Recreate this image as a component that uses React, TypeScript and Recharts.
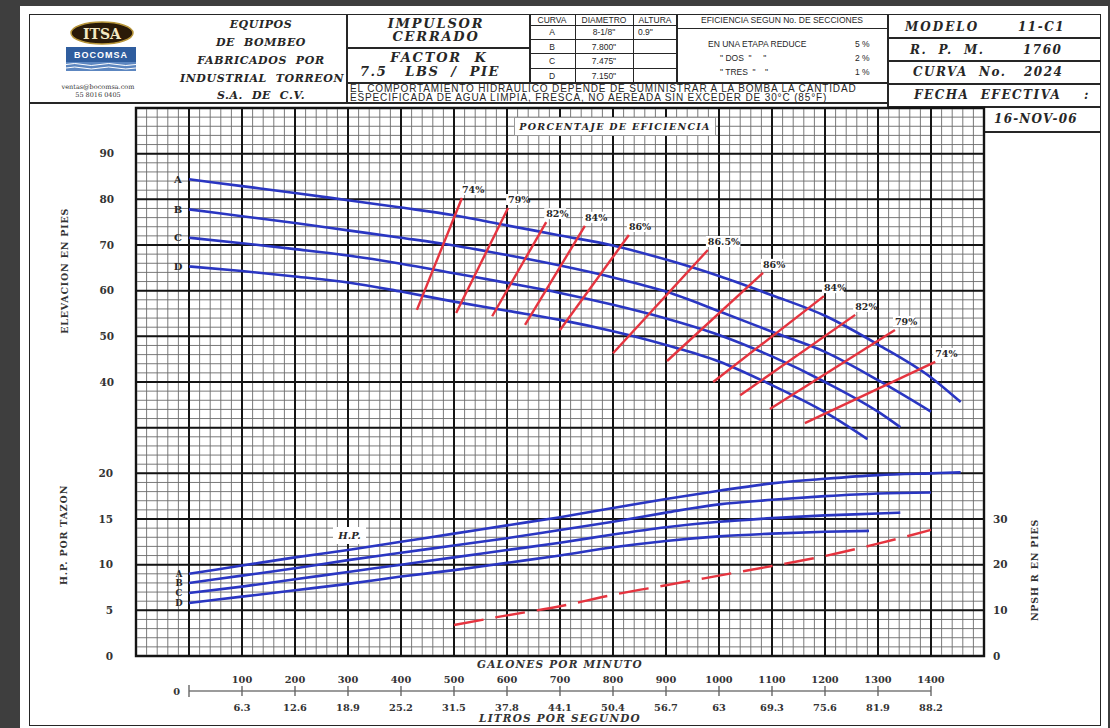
import React from 'react';
import { ComposedChart, Line, XAxis, YAxis, ReferenceLine, ReferenceArea } from 'recharts';

// galones por minuto
const Q = [0, 100, 200, 300, 400, 500, 600, 700, 800, 900, 1000, 1100, 1200, 1300, 1400];
const LPS = ['6.3', '12.6', '18.9', '25.2', '31.5', '37.8', '44.1', '50.4', '56.7', '63', '69.3', '75.6', '81.9', '88.2'];

const CURVES = ['A', 'B', 'C', 'D'];

// elevacion (pies) por curva
const HEAD_A = [84.4, 82.9, 81.4, 79.8, 78.2, 76.5, 74.3, 72.1, 69.9, 66.8, 63.2, 59.0, 54.5, 48.2, 41.0];
const HEAD_B = [77.8, 76.3, 74.8, 73.2, 71.6, 69.9, 67.8, 65.5, 62.9, 59.8, 55.5, 51.0, 46.6, 40.4, 33.5];
const HEAD_C = [71.6, 70.4, 69.1, 67.7, 65.9, 63.8, 61.7, 59.5, 56.9, 53.9, 50.3, 45.6, 40.0, 33.5];
const HEAD_D = [65.3, 64.3, 63.1, 61.8, 59.8, 57.6, 55.6, 53.6, 51.1, 48.1, 44.5, 39.3, 33.4];
const HEAD_END = [[1456, 35.6], null, [1342, 30.1], [1280, 27.5]];

// H.P. por tazon
const HP_A = [9.0, 9.9, 10.8, 11.6, 12.5, 13.4, 14.3, 15.2, 16.2, 17.2, 18.1, 18.9, 19.4, 19.8, 20.0];
const HP_B = [8.0, 8.8, 9.6, 10.5, 11.3, 12.1, 12.9, 13.8, 14.7, 15.7, 16.6, 17.1, 17.5, 17.8, 17.9];
const HP_C = [6.9, 7.6, 8.4, 9.2, 10.0, 10.8, 11.6, 12.4, 13.3, 14.1, 14.7, 15.1, 15.4, 15.6];
const HP_D = [5.8, 6.5, 7.2, 7.9, 8.7, 9.4, 10.2, 11.0, 11.9, 12.6, 13.1, 13.4, 13.6];
const HP_END = [[1456, 20.1], null, [1342, 15.7], [1283, 13.7]];

// NPSH requerido (pies)
const NPSH_Q = [500, 600, 700, 800, 900, 1000, 1100, 1200, 1300, 1400];
const NPSH = [6.8, 8.9, 10.9, 13.4, 15.5, 17.6, 19.7, 21.9, 24.6, 27.6];

// lineas de eficiencia (extremo bajo -> extremo alto)
const EFF_LABELS = ['74%', '79%', '82%', '84%', '86%', '86.5%', '86%', '84%', '82%', '79%', '74%'];
const EFF_Q_LOW = [430, 504, 572, 634, 700, 800, 902, 989, 1040, 1096, 1162];
const EFF_H_LOW = [55.8, 55.1, 54.4, 52.5, 51.4, 46.3, 44.6, 40.0, 37.1, 34.1, 31.0];
const EFF_Q_HIGH = [515, 602, 674, 747, 830, 979, 1083, 1198, 1257, 1332, 1408];
const EFF_H_HIGH = [80.3, 78.1, 75.0, 74.2, 72.2, 68.9, 63.9, 58.8, 54.7, 51.4, 44.4];

const ELEV_TICKS = [40, 50, 60, 70, 80, 90];
const HP_TICKS = [0, 5, 10, 15, 20];
const NPSH_TICKS = [0, 10, 20, 30];

const SERIF = '"DejaVu Serif", "Liberation Serif", serif';
const SANS = '"Liberation Sans", Arial, sans-serif';
const BLUE = '#2a36c2';
const RED = '#e5343f';
const INK = '#262626';

const range = (a: number, b: number, s: number) => {
  const r: number[] = [];
  for (let v = a; v <= b + 1e-9; v += s) r.push(Math.round(v * 100) / 100);
  return r;
};
// reticula: menor cada 20 gpm / 1 hp, mayor cada 100 gpm / 5 hp
const MINOR_X = range(-100, 1500, 20);
const MAJOR_X = range(-100, 1500, 100);
const MINOR_Y = range(0, 60, 1);
const MAJOR_Y = range(0, 60, 5);

const toPoints = (xs: number[], ys: number[], end: number[] | null) => {
  const pts = ys.map((y, i) => ({ x: xs[i], y }));
  if (end) pts.push({ x: end[0], y: end[1] });
  return pts;
};

const letterDot = (text: string, size: number, dx: number) => (p: any) => {
  if (p.index !== 0) return <g key={`l${p.index}`} />;
  return (
    <text key="lbl" x={p.cx + dx} y={p.cy + size * 0.35} textAnchor="middle" fontFamily={SERIF}
      fontWeight="bold" fontSize={size} fill={INK}>{text}</text>
  );
};

const effDot = (text: string) => (p: any) => {
  if (p.index !== 1) return <g key={`e${p.index}`} />;
  const w = text.length * 6.3 + 3;
  return (
    <g key="lbl">
      <rect x={p.cx - 2} y={p.cy - 14} width={w} height={11} fill="#fff" />
      <text x={p.cx} y={p.cy - 5} fontFamily={SERIF} fontWeight="bold" fontSize={9.5} fill={INK}>{text}</text>
    </g>
  );
};

const AxisTitle = (props: any) => {
  const vb = props.viewBox || { x: 0, y: 0, width: 0, height: 0 };
  const x = vb.x + props.offsetX;
  const y = vb.y + vb.height * props.frac;
  return (
    <text x={x} y={y} transform={`rotate(-90 ${x} ${y})`} textAnchor="middle" dominantBaseline="central"
      fontFamily={SERIF} fontWeight="bold" fontSize={9.5} letterSpacing={0.8} fill="#333">{props.text}</text>
  );
};

const ScaleTick = (props: any) => {
  const { x, y, payload } = props;
  const v = payload.value;
  const i = Q.indexOf(v);
  const st = { fontFamily: SERIF, fontWeight: 'bold' as const, fontSize: 9.8, fill: '#333' };
  if (v === 0) {
    return (
      <g>
        <line x1={x} x2={x} y1={y - 6} y2={y + 6} stroke="#666" strokeWidth={1.4} />
        <text x={x - 9} y={y + 4} textAnchor="end" {...st}>0</text>
      </g>
    );
  }
  return (
    <g>
      <line x1={x} x2={x} y1={y - 5} y2={y + 5} stroke="#666" strokeWidth={1.4} />
      <text x={x} y={y - 8} textAnchor="middle" {...st}>{v}</text>
      <text x={x} y={y + 20} textAnchor="middle" {...st}>{LPS[i - 1]}</text>
    </g>
  );
};

const ScaleTitles = (props: any) => {
  const vb = props.viewBox || { x: 136, y: 35, width: 848, height: 30 };
  const cx = vb.x + vb.width / 2;
  const st = { fontFamily: SERIF, fontWeight: 'bold' as const, fontStyle: 'italic' as const, fontSize: 10.5, letterSpacing: 1.2, fill: '#333', textAnchor: 'middle' as const };
  return (
    <g>
      <text x={cx} y={vb.y - 23} {...st}>GALONES  POR  MINUTO</text>
      <text x={cx} y={vb.y + 31} {...st}>LITROS  POR  SEGUNDO</text>
    </g>
  );
};

const hline = (x1: number, x2: number, y: number, t = 1.3) => (
  <div key={`h${x1}-${x2}-${y}`} style={{ position: 'absolute', left: x1, top: y - t / 2, width: x2 - x1, height: t, background: INK }} />
);
const vline = (x: number, y1: number, y2: number, t = 1.3) => (
  <div key={`v${x}-${y1}-${y2}`} style={{ position: 'absolute', left: x - t / 2, top: y1, width: t, height: y2 - y1, background: INK }} />
);

const Txt = ({ x, y, w, style, children, align }: any) => (
  <div style={{
    position: 'absolute', left: align === 'left' ? x : x - w / 2, top: y - 8, width: w, height: 16,
    lineHeight: '16px', textAlign: align || 'center', whiteSpace: 'pre', color: INK, ...style,
  }}>{children}</div>
);

const HS = { fontFamily: SERIF, fontWeight: 'bold', fontStyle: 'italic' };
const CO = { ...HS, fontSize: 11, letterSpacing: 0.6 };
const TS = { fontFamily: SANS, fontSize: 8.5 };

export default function App() {
  const heads = [HEAD_A, HEAD_B, HEAD_C, HEAD_D].map((v, i) => toPoints(Q, v, HEAD_END[i]));
  const hps = [HP_A, HP_B, HP_C, HP_D].map((v, i) => toPoints(Q, v, HP_END[i]));
  const npsh = toPoints(NPSH_Q, NPSH, null);
  const effs = EFF_LABELS.map((_, i) => [
    { x: EFF_Q_LOW[i], y: EFF_H_LOW[i] },
    { x: EFF_Q_HIGH[i], y: EFF_H_HIGH[i] },
  ]);
  const tickStyle = { fontFamily: SERIF, fontWeight: 'bold', fontSize: 10.5, fill: '#333' };

  return (
    <div style={{ position: 'absolute', left: 0, top: 0, width: 1110, height: 728, background: '#3e3e3e', overflow: 'hidden' }}>
      <div style={{ position: 'absolute', left: 20, top: 6, width: 1088, height: 722, background: '#fff' }} />
      <div style={{ position: 'absolute', left: 29, top: 14, width: 1072, height: 712, border: `1.5px solid ${INK}`, boxSizing: 'border-box' }} />

      {/* encabezado: lineas */}
      {vline(347, 14, 103)}
      {hline(29, 888, 103)}
      {hline(347, 530, 48)}
      {vline(530, 14, 83)}
      {vline(575, 14, 83, 1)}
      {vline(633, 14, 83, 1)}
      {vline(677, 14, 83)}
      {hline(530, 677, 25, 1)}
      {hline(530, 677, 39, 1)}
      {hline(530, 677, 53, 1)}
      {hline(530, 677, 68, 1)}
      {hline(347, 888, 83)}
      {hline(677, 888, 28, 1)}
      {vline(888, 14, 108)}
      {hline(888, 1101, 38)}
      {hline(888, 1101, 61)}
      {hline(888, 1101, 84)}
      {hline(888, 1101, 107)}
      {hline(984, 1101, 132)}

      {/* logo */}
      <svg style={{ position: 'absolute', left: 60, top: 20 }} width={85} height={82}>
        <ellipse cx={42} cy={13} rx={31} ry={11} fill="#2a1a08" stroke="#b8963a" strokeWidth={1.5} />
        <text x={42} y={18.5} textAnchor="middle" fontFamily={SERIF} fontWeight="bold" fontSize={14} fill="#f3e7c2">ITSA</text>
        <rect x={6} y={27} width={70} height={15} fill="#2f5d9e" />
        <text x={41} y={38} textAnchor="middle" fontFamily={SANS} fontWeight="bold" fontSize={9} letterSpacing={1} fill="#fff">BOCOMSA</text>
        <rect x={6} y={42} width={70} height={9} fill="#5c86c0" />
        <path d="M6 44.5 q9 -2 17 0 t17 0 t17 0 t19 0" stroke="#fff" strokeWidth={1} fill="none" />
        <path d="M6 48 q9 -2 17 0 t17 0 t17 0 t19 0" stroke="#fff" strokeWidth={1} fill="none" />
        <text x={38} y={68.5} textAnchor="middle" fontFamily={SERIF} fontSize={6.5} fill="#333">ventas@bocomsa.com</text>
        <text x={38} y={77} textAnchor="middle" fontFamily={SERIF} fontSize={6.5} fill="#333">55 8016 0405</text>
      </svg>

      {/* empresa */}
      <Txt x={261} y={25} w={165} style={CO}>EQUIPOS</Txt>
      <Txt x={261} y={43} w={165} style={CO}>DE  BOMBEO</Txt>
      <Txt x={261} y={61} w={165} style={CO}>FABRICADOS  POR</Txt>
      <Txt x={262} y={79} w={165} style={CO}>INDUSTRIAL  TORREON</Txt>
      <Txt x={261} y={96} w={165} style={CO}>S.A.  DE  C.V.</Txt>

      <Txt x={436} y={24} w={180} style={{ ...HS, fontSize: 13, letterSpacing: 1.8 }}>IMPULSOR</Txt>
      <Txt x={436} y={37} w={180} style={{ ...HS, fontSize: 13, letterSpacing: 1.8 }}>CERRADO</Txt>
      <Txt x={439} y={58} w={180} style={{ ...HS, fontSize: 13, letterSpacing: 1.8 }}>FACTOR  K</Txt>
      <Txt x={430} y={72} w={180} style={{ ...HS, fontSize: 13, letterSpacing: 1.5 }}>{'7.5   LBS  /  PIE'}</Txt>

      {/* tabla de diametros */}
      <Txt x={552} y={20} w={45} style={TS}>CURVA</Txt>
      <Txt x={604} y={20} w={58} style={TS}>DIAMETRO</Txt>
      <Txt x={655} y={20} w={44} style={TS}>ALTURA</Txt>
      {CURVES.map((c, i) => (
        <Txt key={`c${c}`} x={552} y={32 + i * 14.5} w={45} style={TS}>{c}</Txt>
      ))}
      {['8-1/8"', '7.800"', '7.475"', '7.150"'].map((d, i) => (
        <Txt key={`d${d}`} x={604} y={32 + i * 14.5} w={58} style={TS}>{d}</Txt>
      ))}
      <Txt x={638} y={32} w={40} align="left" style={TS}>0.9"</Txt>

      {/* eficiencia segun secciones */}
      <Txt x={782} y={20} w={210} style={TS}>EFICIENCIA SEGUN No. DE SECCIONES</Txt>
      <Txt x={708} y={44} w={140} align="left" style={TS}>EN UNA ETAPA REDUCE</Txt>
      <Txt x={720} y={58} w={100} align="left" style={TS}>{'" DOS  "     "'}</Txt>
      <Txt x={720} y={72} w={100} align="left" style={TS}>{'" TRES  "    "'}</Txt>
      <Txt x={855} y={44} w={30} align="left" style={TS}>5 %</Txt>
      <Txt x={855} y={58} w={30} align="left" style={TS}>2 %</Txt>
      <Txt x={855} y={72} w={30} align="left" style={TS}>1 %</Txt>

      <div style={{ position: 'absolute', left: 350, top: 83.5, width: 536, fontFamily: SANS, fontSize: 10, letterSpacing: 0.85, lineHeight: '9.8px', color: INK, whiteSpace: 'nowrap' }}>
        EL COMPORTAMIENTO HIDRAULICO DEPENDE DE SUMINISTRAR A LA BOMBA LA CANTIDAD<br />
        ESPECIFICADA DE AGUA LIMPIA, FRESCA, NO AEREADA SIN EXCEDER DE 30°C (85°F)
      </div>

      {/* datos del modelo */}
      <Txt x={905} y={27} w={80} align="left" style={{ ...HS, fontSize: 12, letterSpacing: 2 }}>MODELO</Txt>
      <Txt x={1018} y={27} w={60} align="left" style={{ ...HS, fontSize: 12, letterSpacing: 1.5 }}>11-C1</Txt>
      <Txt x={910} y={50} w={90} align="left" style={{ ...HS, fontSize: 12, letterSpacing: 1.5 }}>R.  P.  M.</Txt>
      <Txt x={1023} y={50} w={60} align="left" style={{ ...HS, fontSize: 12, letterSpacing: 1.5 }}>1760</Txt>
      <Txt x={913} y={72} w={90} align="left" style={{ ...HS, fontSize: 12, letterSpacing: 1.5 }}>CURVA  No.</Txt>
      <Txt x={1024} y={72} w={60} align="left" style={{ ...HS, fontSize: 12, letterSpacing: 1.5 }}>2024</Txt>
      <Txt x={914} y={95} w={180} align="left" style={{ ...HS, fontSize: 12, letterSpacing: 1.5 }}>{'FECHA  EFECTIVA    :'}</Txt>
      <Txt x={1036} y={119} w={110} style={{ ...HS, fontSize: 12, letterSpacing: 1.2 }}>16-NOV-06</Txt>

      {/* grafica principal */}
      <div style={{ position: 'absolute', left: 0, top: 100 }}>
        <ComposedChart width={1110} height={572} margin={{ top: 8, right: 125, bottom: 16, left: 134 }}>
          <XAxis xAxisId="q" type="number" dataKey="x" domain={[-100, 1500]} hide />
          <YAxis yAxisId="elev" type="number" domain={[-20, 100]} ticks={ELEV_TICKS} width={1}
            axisLine={false} tickLine={false} tickSize={0} tickMargin={22} interval={0} tick={tickStyle}
            label={<AxisTitle text="ELEVACION  EN  PIES" offsetX={-70} frac={0.297} />} />
          <YAxis yAxisId="hp" type="number" domain={[0, 60]} ticks={HP_TICKS} width={1}
            axisLine={false} tickLine={false} tickSize={0} tickMargin={22} interval={0} tick={tickStyle}
            label={<AxisTitle text="H.P.  POR  TAZON" offsetX={-70} frac={0.779} />} />
          <YAxis yAxisId="npsh" orientation="right" type="number" domain={[0, 120]} ticks={NPSH_TICKS} width={1}
            axisLine={false} tickLine={false} tickSize={0} tickMargin={9} interval={0} tick={tickStyle}
            label={<AxisTitle text="NPSH  R  EN  PIES" offsetX={51} frac={0.843} />} />

          {MINOR_X.map((v) => (
            <ReferenceLine key={`mx${v}`} xAxisId="q" yAxisId="hp" x={v} stroke="#6b6b6b" strokeWidth={0.9} />
          ))}
          {MINOR_Y.map((v) => (
            <ReferenceLine key={`my${v}`} xAxisId="q" yAxisId="hp" y={v} stroke="#6b6b6b" strokeWidth={0.9} />
          ))}
          {MAJOR_X.map((v) => (
            <ReferenceLine key={`Mx${v}`} xAxisId="q" yAxisId="hp" x={v} stroke="#141414" strokeWidth={2} />
          ))}
          {MAJOR_Y.map((v) => (
            <ReferenceLine key={`My${v}`} xAxisId="q" yAxisId="hp" y={v} stroke="#141414" strokeWidth={2} />
          ))}
          <ReferenceArea xAxisId="q" yAxisId="hp" x1={-100} x2={1500} y1={0} y2={60}
            fill="none" fillOpacity={0} stroke="#141414" strokeWidth={2.4} ifOverflow="visible" />

          {heads.map((d, i) => (
            <Line key={`h${i}`} xAxisId="q" yAxisId="elev" data={d} dataKey="y" type="monotone"
              stroke={BLUE} strokeWidth={2.6} dot={letterDot(CURVES[i], 10, -11)} activeDot={false}
              isAnimationActive={false} />
          ))}
          {hps.map((d, i) => (
            <Line key={`p${i}`} xAxisId="q" yAxisId="hp" data={d} dataKey="y" type="monotone"
              stroke={BLUE} strokeWidth={2.6} dot={letterDot(CURVES[i], 8.5, -10)} activeDot={false}
              isAnimationActive={false} />
          ))}
          <Line xAxisId="q" yAxisId="npsh" data={npsh} dataKey="y" type="monotone" stroke={RED}
            strokeWidth={2.4} strokeDasharray="30 12" dot={false} activeDot={false} isAnimationActive={false} />
          {effs.map((d, i) => (
            <Line key={`e${i}`} xAxisId="q" yAxisId="elev" data={d} dataKey="y" type="linear"
              stroke={RED} strokeWidth={2.4} dot={effDot(EFF_LABELS[i])} activeDot={false}
              isAnimationActive={false} />
          ))}
        </ComposedChart>
      </div>

      {/* escala de gasto */}
      <div style={{ position: 'absolute', left: 0, top: 656 }}>
        <ComposedChart width={1110} height={72} margin={{ top: 25, right: 126, bottom: 7, left: 136 }}>
          <XAxis xAxisId="s" type="number" dataKey="x" domain={[-100, 1500]} ticks={Q} interval={0}
            axisLine={false} tickLine={false} tickSize={0} tickMargin={0} height={30}
            tick={<ScaleTick />} label={<ScaleTitles />} />
          <YAxis yAxisId="s" type="number" domain={[0, 1]} hide />
          <Line xAxisId="s" yAxisId="s" data={[{ x: Q[0], y: 0 }, { x: Q[Q.length - 1], y: 0 }]} dataKey="y"
            stroke="#7a7a7a" strokeWidth={1.5} dot={false} activeDot={false} isAnimationActive={false} />
        </ComposedChart>
      </div>

      {/* rotulos sobre la reticula */}
      <div style={{ position: 'absolute', left: 514, top: 117, width: 202, height: 19, background: '#fff', border: '1px solid #999', boxSizing: 'border-box', textAlign: 'center', lineHeight: '17px', fontFamily: SERIF, fontWeight: 'bold', fontStyle: 'italic', fontSize: 9.5, letterSpacing: 1.3, color: INK }}>
        PORCENTAJE  DE  EFICIENCIA
      </div>
      <div style={{ position: 'absolute', left: 333, top: 527, width: 33, height: 17, background: '#fff', textAlign: 'center', lineHeight: '17px', fontFamily: SERIF, fontWeight: 'bold', fontStyle: 'italic', fontSize: 10, color: INK }}>
        H.P.
      </div>
    </div>
  );
}
